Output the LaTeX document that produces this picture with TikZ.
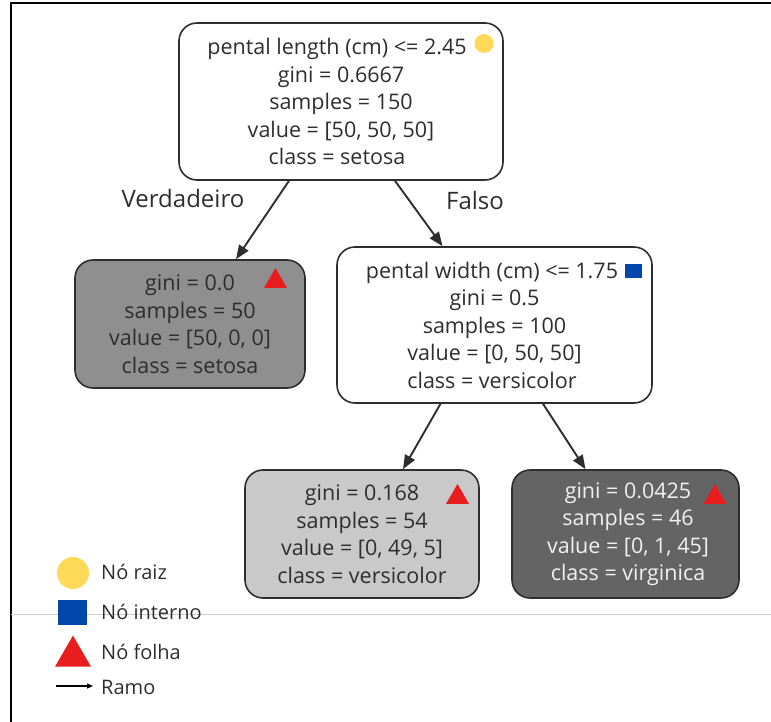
\documentclass[tikz,border=0pt]{standalone}
\usepackage{fontspec}
\setmainfont{Open Sans}
\usetikzlibrary{arrows.meta,shapes.geometric,calc}
\definecolor{txt}{HTML}{2E2E2E}
\definecolor{rootyellow}{HTML}{FFD957}
\definecolor{intblue}{HTML}{0047AB}
\definecolor{leafred}{HTML}{E81E1E}
\definecolor{midgray}{HTML}{8F8F8F}
\definecolor{lightgray2}{HTML}{C9C9C9}
\definecolor{darkgray2}{HTML}{646464}
\definecolor{sepgray}{HTML}{CCCCCC}
\newcommand{\rpad}{\hspace*{8pt}}
\newcommand{\mpad}{\hspace*{5pt}}
\newcommand{\lpad}{\hspace*{5pt}}
\tikzset{
  treebox/.style={draw=txt, line width=1.6pt, rounded corners=18pt, inner sep=0pt,
    align=center, text=txt, font=\fontsize{21.5}{27.5}\selectfont},
  edge/.style={draw=txt, line width=1.9pt, -{Triangle[length=14pt,width=11pt]}},
  elabel/.style={text=txt, font=\fontsize{24}{28}\selectfont, inner sep=0pt},
  leg/.style={text=txt, font=\fontsize{20}{24}\selectfont, inner sep=0pt, anchor=west},
  tri/.style={regular polygon, regular polygon sides=3, fill=leafred, inner sep=0pt, outer sep=0pt},
}
\begin{document}
\begin{tikzpicture}[x=1pt,y=-1pt]
\path[use as bounding box] (0,0) rectangle (771,722);
% frame
\draw[line width=1.6pt, black] (11,722) -- (11,3) -- (771,3);
\draw[sepgray, line width=1pt] (11,614) -- (771,614);

% nodes
\node[treebox, minimum width=324pt, minimum height=157pt] (root) at (341,101.5)
  {pental length (cm) <= 2.45\rpad\\gini = 0.6667\rpad\\samples = 150\rpad\\value = [50, 50, 50]\rpad\\class = setosa\rpad};
\node[treebox, fill=midgray, minimum width=230pt, minimum height=128pt] (left) at (190,324)
  {gini = 0.0\\samples = 50\\value = [50, 0, 0]\\class = setosa};
\node[treebox, fill=white, minimum width=315pt, minimum height=156pt] (mid) at (494.5,325)
  {pental width (cm) <= 1.75\mpad\\gini = 0.5\mpad\\samples = 100\mpad\\value = [0, 50, 50]\mpad\\class = versicolor\mpad};
\node[treebox, fill=lightgray2, minimum width=234pt, minimum height=128pt] (bl) at (362,534)
  {gini = 0.168\\samples = 54\\value = [0, 49, 5]\\class = versicolor};
\node[treebox, fill=darkgray2, text=white!94!black, minimum width=227pt, minimum height=128pt] (br) at (625.5,534)
  {\lpad gini = 0.0425\\\lpad samples = 46\\\lpad value = [0, 1, 45]\\\lpad class = virginica};

% markers
\node[circle, fill=rootyellow, minimum size=19pt, inner sep=0pt] (rootmark) at (484,43.5) {};
\node[fill=intblue, minimum width=17pt, minimum height=14pt, inner sep=0pt] (midmark) at (633.5,271) {};
\node[tri, minimum size=26.6pt] (leftmark) at (275.5,281.3) {};
\node[tri, minimum size=26.6pt] (blmark) at (457.5,497.3) {};
\node[tri, minimum size=26.6pt] (brmark) at (715,497.3) {};

% edges
\draw[edge] ($(root.south)+(-52,0)$) -- ($(left.north)+(46,0)$);
\draw[edge] ($(root.south)+(54,0)$) -- ($(mid.north)+(-52,0)$);
\draw[edge] ($(mid.south)+(-54,0)$) -- ($(bl.north)+(41,0)$);
\draw[edge] ($(mid.south)+(48.5,0)$) -- ($(br.north)+(-40,0)$);

\node[elabel] (ltrue) at (183,199) {Verdadeiro};
\node[elabel] (lfalse) at (475,201) {Falso};

% legend
\node[circle, fill=rootyellow, minimum size=32pt, inner sep=0pt] (legroot) at (73,573) {};
\node[fill=intblue, minimum width=29pt, minimum height=25pt, inner sep=0pt] (legint) at (72.5,612.5) {};
\node[tri, minimum size=41.6pt] (legleaf) at (73,656.3) {};
\coordinate (arrA) at (56,686);
\coordinate (arrB) at (93,686);
\draw[black, line width=1.3pt, -{Triangle[length=6pt,width=5pt]}] (arrA) -- (arrB);
\node[leg] (t1) at (101,572) {Nó raiz};
\node[leg] (t2) at (101,612) {Nó interno};
\node[leg] (t3) at (101,652) {Nó folha};
\node[leg] (t4) at (101,687) {Ramo};
\end{tikzpicture}
\end{document}
